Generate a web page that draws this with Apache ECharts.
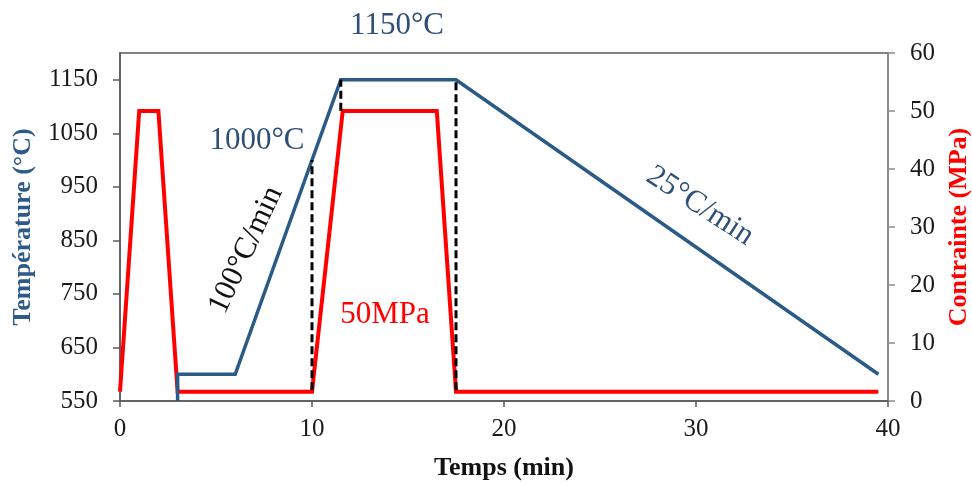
<!DOCTYPE html>
<html>
<head>
<meta charset="utf-8">
<script src="https://cdn.jsdelivr.net/npm/echarts@6/dist/echarts.min.js"></script>
<style>
html,body{margin:0;padding:0;background:#fff;}
#chart{width:972px;height:485px;}
</style>
</head>
<body>
<div id="chart"></div>
<script>
// Temperature profile (°C) vs time (min)
var tempTime = [3, 3, 6, 11.5, 17.5, 39.5];
var tempValues = [550, 600, 600, 1150, 1150, 600];

// Stress profile (MPa) vs time (min)
var stressTime = [0, 1, 2, 3, 10, 11.6, 16.5, 17.5, 39.5];
var stressValues = [1.6, 50, 50, 1.6, 1.6, 50, 50, 1.6, 1.6];

// Dashed guide lines (time, temperature °C)
var guide1Time = [10, 10];
var guide1Temp = [570, 1000];
var guide2Time = [11.5, 11.5];
var guide2Temp = [1092, 1150];
var guide3Time = [17.5, 17.5];
var guide3Temp = [570, 1150];

// Tick labels
var xTicks = [0, 10, 20, 30, 40];
var tempTicks = [550, 650, 750, 850, 950, 1050, 1150];
var stressTicks = [0, 10, 20, 30, 40, 50, 60];

function pairs(xs, ys) { return xs.map(function (x, i) { return [x, ys[i]]; }); }
function plain(v) { return String(v); }

var serif = '"Liberation Serif", "Times New Roman", serif';
var blueLine = '#2A5A86';
var blueText = '#2E4F76';
var red = '#FF0000';

var chart = echarts.init(document.getElementById('chart'), null, {renderer: 'canvas'});
chart.setOption({
  backgroundColor: '#ffffff',
  animation: false,
  grid: {left: 120, right: 84, top: 53, bottom: 84, show: true, borderColor: '#595959', borderWidth: 1.5, outerBoundsMode: 'none', containLabel: false},
  xAxis: {
    type: 'value', min: 0, max: 40, interval: 10,
    axisLine: {show: true, onZero: false, lineStyle: {color: '#595959', width: 1.5}},
    axisTick: {show: true, inside: false, length: 6, lineStyle: {color: '#595959', width: 1.5}, customValues: xTicks},
    axisLabel: {fontFamily: serif, fontSize: 25, color: '#1a1a1a', margin: 16, customValues: xTicks, formatter: plain},
    splitLine: {show: false},
    name: 'Temps (min)', nameLocation: 'middle', nameGap: 54,
    nameTextStyle: {fontFamily: serif, fontSize: 26, fontWeight: 'bold', color: '#111'}
  },
  yAxis: [{
    type: 'value', min: 550, max: 1200, position: 'left',
    axisLine: {show: true, lineStyle: {color: '#595959', width: 1.5}},
    axisTick: {show: true, inside: false, length: 7, lineStyle: {color: '#595959', width: 1.5}, customValues: tempTicks},
    axisLabel: {fontFamily: serif, fontSize: 25, color: '#1a1a1a', margin: 22, customValues: tempTicks, formatter: plain},
    splitLine: {show: false},
    name: 'Température (°C)', nameLocation: 'middle', nameGap: 84, nameRotate: 90,
    nameTextStyle: {fontFamily: serif, fontSize: 26, fontWeight: 'bold', color: '#2E5A88'}
  }, {
    type: 'value', min: 0, max: 60, interval: 10, position: 'right',
    axisLine: {show: true, lineStyle: {color: '#8c8c8c', width: 1.5}},
    axisTick: {show: true, inside: false, length: 7, lineStyle: {color: '#8c8c8c', width: 1.5}},
    axisLabel: {fontFamily: serif, fontSize: 25, color: '#1a1a1a', margin: 22, customValues: stressTicks, formatter: plain},
    splitLine: {show: false},
    name: 'Contrainte (MPa)', nameLocation: 'middle', nameGap: 57, nameRotate: 90,
    nameTextStyle: {fontFamily: serif, fontSize: 26, fontWeight: 'bold', color: red}
  }],
  series: [{
    name: 'Température', type: 'line', yAxisIndex: 0, showSymbol: false, symbol: 'none',
    data: pairs(tempTime, tempValues),
    lineStyle: {color: blueLine, width: 3.5, join: 'miter'}, z: 3
  }, {
    name: 'Contrainte', type: 'line', yAxisIndex: 1, showSymbol: false, symbol: 'none',
    data: pairs(stressTime, stressValues),
    lineStyle: {color: red, width: 4, join: 'miter'}, z: 2
  }, {
    type: 'line', yAxisIndex: 0, symbol: 'none', data: pairs(guide1Time, guide1Temp),
    lineStyle: {color: '#000', width: 3, type: [8, 4]}, z: 5
  }, {
    type: 'line', yAxisIndex: 0, symbol: 'none', data: pairs(guide2Time, guide2Temp),
    lineStyle: {color: '#000', width: 3, type: [8, 4]}, z: 5
  }, {
    type: 'line', yAxisIndex: 0, symbol: 'none', data: pairs(guide3Time, guide3Temp),
    lineStyle: {color: '#000', width: 3, type: [8, 4]}, z: 5
  }],
  graphic: [
    {type: 'text', x: 397, y: 26, style: {text: '1150°C', fontFamily: serif, fontSize: 31, fill: blueText, align: 'center', verticalAlign: 'middle'}},
    {type: 'text', x: 257, y: 141, style: {text: '1000°C', fontFamily: serif, fontSize: 31, fill: blueText, align: 'center', verticalAlign: 'middle'}},
    {type: 'text', x: 385, y: 315, style: {text: '50MPa', fontFamily: serif, fontSize: 31, fill: red, align: 'center', verticalAlign: 'middle'}},
    {type: 'text', x: 246, y: 250, rotation: 65 * Math.PI / 180, style: {text: '100°C/min', fontFamily: serif, fontSize: 31, fill: '#111', align: 'center', verticalAlign: 'middle'}},
    {type: 'text', x: 700, y: 206, rotation: -33 * Math.PI / 180, style: {text: '25°C/min', fontFamily: serif, fontSize: 31, fill: blueText, align: 'center', verticalAlign: 'middle'}}
  ]
});
</script>
</body>
</html>
